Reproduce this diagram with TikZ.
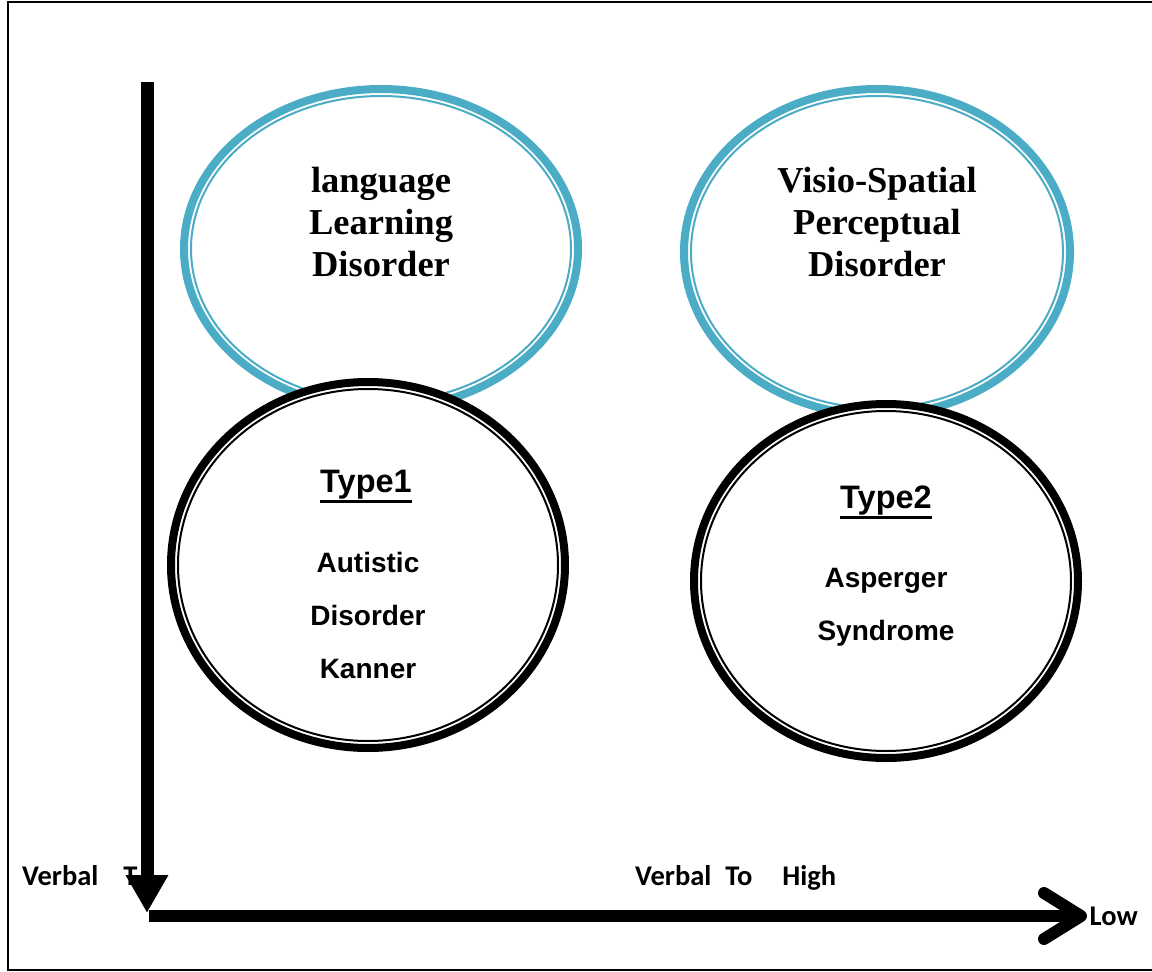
\documentclass[tikz,border=0pt]{standalone}
\usepackage{fontspec}
\setmainfont{Liberation Serif}
\newfontfamily\arialf{Liberation Sans}
\newfontfamily\calf{Carlito}
\usetikzlibrary{arrows.meta,shapes.geometric}
\definecolor{accblue}{HTML}{4BACC6}
\newcommand\myul[1]{\sbox0{#1}\rlap{\rule[-11pt]{\wd0}{2.6pt}}\usebox0}
\begin{document}
\begin{tikzpicture}[x=1pt,y=-1pt,
  blueell/.style={ellipse, draw=accblue, line width=8pt, fill=white, inner sep=0pt, outer sep=0pt},
  blackell/.style={ellipse, draw=black, line width=8pt, fill=white, inner sep=0pt, outer sep=0pt},
  bluering/.style={draw=accblue, line width=2pt},
  blackring/.style={draw=black, line width=2pt},
  seriftext/.style={font=\fontsize{36.5}{42}\selectfont\bfseries, align=center, inner sep=0pt},
  sanstext/.style={font=\arialf\fontsize{28}{53}\selectfont\bfseries, align=center, inner sep=0pt},
  typetext/.style={font=\arialf\fontsize{32.5}{36}\selectfont\bfseries, inner sep=0pt, anchor=base},
  axistext/.style={font=\calf\fontsize{28.5}{32}\selectfont\bfseries, inner sep=0pt},
  vaxis/.style={line width=13pt, -{Triangle[length=38pt,width=40pt]}},
  haxis/.style={line width=12pt, -{Straight Barb[round,length=37pt,width=46pt]}}
]
\useasboundingbox (0,0) rectangle (1152,972);
% frame
\draw[line width=2.2pt] (8,2.3) rectangle (1175,970);

% blue ellipses
\node[blueell, minimum width=394, minimum height=320] (lld) at (381,249) {};
\draw[bluering] (lld.center) ellipse [x radius=190, y radius=153];
\node[blueell, minimum width=386, minimum height=326] (vspd) at (877,252) {};
\draw[bluering] (vspd.center) ellipse [x radius=186, y radius=156];

% black circles
\node[blackell, minimum width=394, minimum height=366] (type1) at (368,565) {};
\draw[blackring] (type1.center) ellipse [x radius=190, y radius=176];
\node[blackell, minimum width=384, minimum height=354] (type2) at (886,581) {};
\draw[blackring] (type2.center) ellipse [x radius=185, y radius=170];

% texts
\node[seriftext] (lldtxt) at (381,222) {language\\Learning\\Disorder};
\node[seriftext] (vspdtxt) at (877,222) {Visio-Spatial\\Perceptual\\Disorder};
\node[typetext] (t1) at (366,492) {\myul{Type1}};
\node[sanstext] (t1txt) at (368,615) {Autistic\\Disorder\\Kanner};
\node[typetext] (t2) at (886,508) {\myul{Type2}};
\node[sanstext] (t2txt) at (886,607) {Asperger\\Syndrome};

\node[axistext, anchor=base west] (vlow) at (22,885) {Verbal\hspace{25pt}T};
\node[axistext, anchor=base west] (vhigh) at (635,885) {Verbal\hspace{14pt}To\hspace{30pt}High};
\node[axistext, anchor=base east] (low) at (1138,925) {Low};

% axes
\coordinate (vtop) at (147,82);
\coordinate (vbot) at (147,913);
\coordinate (hleft) at (149,916);
\coordinate (hright) at (1087,916);
\draw[vaxis] (vtop) -- (vbot);
\draw[haxis] (hleft) -- (hright);
\end{tikzpicture}
\end{document}
